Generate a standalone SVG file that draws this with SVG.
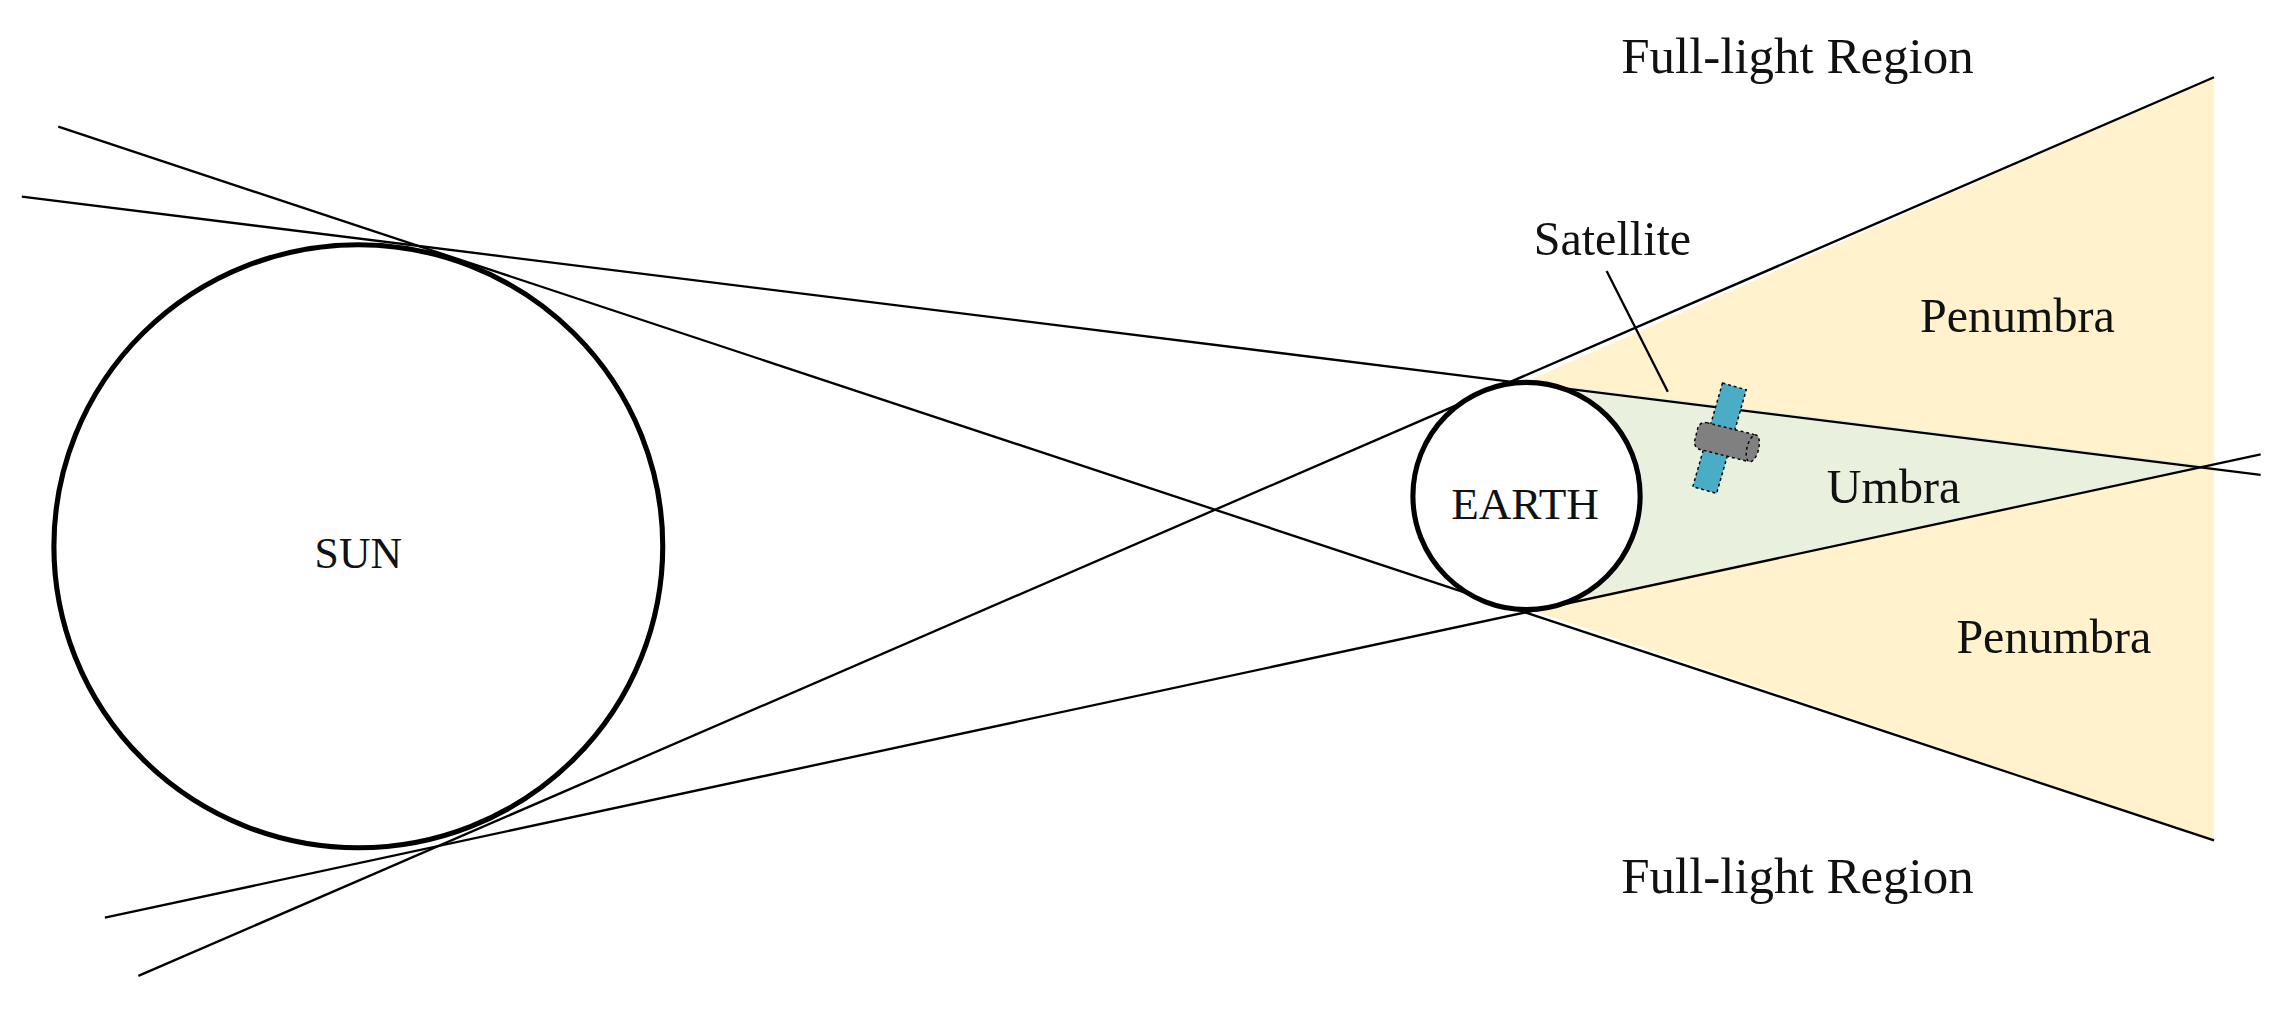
<svg xmlns="http://www.w3.org/2000/svg" width="2284" height="1014" viewBox="0 0 2284 1014">
<style>
.t{font-family:"Liberation Serif","Times New Roman",serif;fill:#111}
.ln{stroke:#000;stroke-width:1.6;fill:none}
</style>
<rect width="2284" height="1014" fill="#fff"/>
<g transform="scale(1.4566)">
<g id="regions">
<polygon points="1045,263 1520,53 1520,577 1049,418" fill="#FFF2CC"/>
<polygon points="1050,262 1520,320 1060,416" fill="#E9F0DD"/>
</g>
<g id="connectors">
<line class="ln" x1="15" y1="135" x2="1552" y2="326"/>
<line class="ln" x1="72" y1="630" x2="1552" y2="312"/>
<line class="ln" x1="40" y1="87" x2="1520" y2="577"/>
<line class="ln" x1="95" y1="670" x2="1520" y2="53"/>
<line class="ln" x1="1103" y1="186" x2="1145" y2="269"/>
</g>
<g id="sun">
<ellipse cx="246" cy="375" rx="209" ry="207" fill="none" stroke="#000" stroke-width="3.5"/>
<text class="t" x="246" y="390" font-size="30" text-anchor="middle">SUN</text>
</g>
<g id="earth">
<circle cx="1048" cy="340.5" r="78" fill="#fff" stroke="#000" stroke-width="3.5"/>
<text class="t" x="1047" y="356" font-size="31" text-anchor="middle">EARTH</text>
</g>
<g id="satellite">
<g transform="rotate(16 1181 301)">
<rect x="1172" y="264" width="17" height="74" fill="#4BACC6" stroke="#000" stroke-width="1" stroke-dasharray="2,2"/>
</g>
<g transform="rotate(14 1186 303)">
<rect x="1164" y="294" width="42" height="19" rx="5" fill="#808080" stroke="#000" stroke-width="1" stroke-dasharray="2,2"/>
<ellipse cx="1204" cy="303.5" rx="4" ry="9.5" fill="#808080" stroke="#000" stroke-width="1" stroke-dasharray="2,2"/>
</g>
</g>
<g id="labels">
<text class="t" x="1234" y="50" font-size="35" text-anchor="middle">Full-light Region</text>
<text class="t" x="1234" y="613" font-size="35" text-anchor="middle">Full-light Region</text>
<text class="t" x="1107" y="175" font-size="33" text-anchor="middle">Satellite</text>
<text class="t" x="1385" y="228" font-size="33" text-anchor="middle">Penumbra</text>
<text class="t" x="1300" y="345" font-size="33" text-anchor="middle">Umbra</text>
<text class="t" x="1410" y="448" font-size="33" text-anchor="middle">Penumbra</text>
</g>
</g>
</svg>
